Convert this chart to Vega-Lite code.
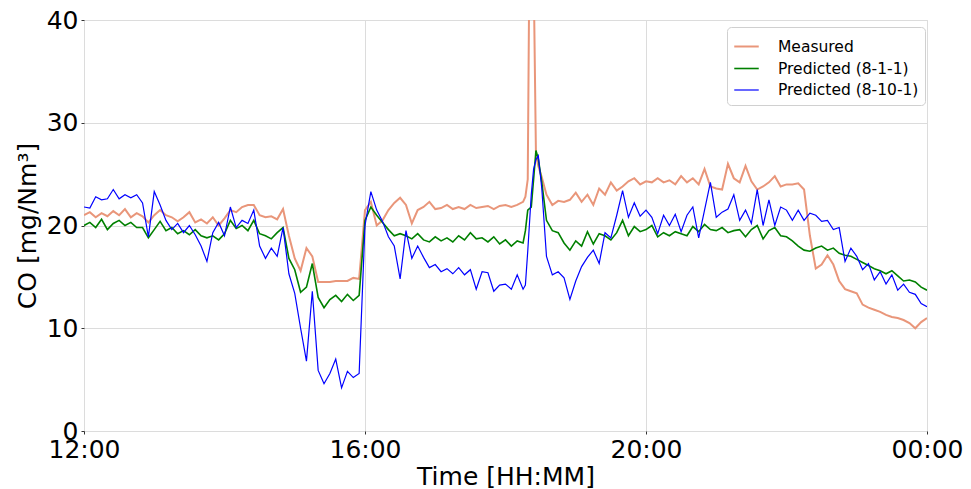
{
  "$schema": "https://vega.github.io/schema/vega-lite/v6.json",
  "width": 843,
  "height": 411,
  "autosize": {"type": "none"},
  "padding": {"left": 84, "top": 20, "right": 44, "bottom": 58},
  "background": "white",
  "config": {
    "font": "DejaVu Sans",
    "view": {"stroke": "#d6d6d6", "strokeWidth": 1},
    "axis": {
      "grid": true,
      "gridColor": "#dcdcdc",
      "gridWidth": 1,
      "domain": false,
      "tickColor": "#333333",
      "tickSize": 3,
      "labelFontSize": 25,
      "labelColor": "#000000",
      "titleFontSize": 25,
      "titleFontWeight": "normal",
      "titleColor": "#000000"
    }
  },
  "data": {
    "values": [
      {"t": 0, "m": 21.0, "g": 20.0, "b": 21.8},
      {"t": 5, "m": 21.3, "g": 20.3, "b": 21.7},
      {"t": 10, "m": 20.8, "g": 19.8, "b": 22.8},
      {"t": 15, "m": 21.2, "g": 20.6, "b": 22.5},
      {"t": 20, "m": 20.9, "g": 19.6, "b": 22.6},
      {"t": 25, "m": 21.4, "g": 20.2, "b": 23.5},
      {"t": 30, "m": 21.0, "g": 20.5, "b": 22.6},
      {"t": 35, "m": 21.6, "g": 20.0, "b": 23.0},
      {"t": 40, "m": 20.8, "g": 20.3, "b": 22.7},
      {"t": 45, "m": 21.2, "g": 19.8, "b": 23.0},
      {"t": 50, "m": 20.9, "g": 19.8, "b": 22.2},
      {"t": 55, "m": 20.3, "g": 18.8, "b": 18.9},
      {"t": 60, "m": 21.0, "g": 19.6, "b": 23.3},
      {"t": 65, "m": 21.5, "g": 20.4, "b": 22.0},
      {"t": 70, "m": 21.0, "g": 19.5, "b": 20.5},
      {"t": 75, "m": 20.8, "g": 19.8, "b": 19.6},
      {"t": 80, "m": 20.4, "g": 19.2, "b": 20.2},
      {"t": 85, "m": 20.8, "g": 19.5, "b": 19.3},
      {"t": 90, "m": 21.3, "g": 19.1, "b": 20.0},
      {"t": 95, "m": 20.3, "g": 19.6, "b": 19.1},
      {"t": 100, "m": 20.6, "g": 19.0, "b": 18.0},
      {"t": 105, "m": 20.2, "g": 18.8, "b": 16.5},
      {"t": 110, "m": 20.8, "g": 19.0, "b": 19.3},
      {"t": 115, "m": 20.0, "g": 18.6, "b": 20.3},
      {"t": 120, "m": 20.7, "g": 19.2, "b": 19.0},
      {"t": 125, "m": 21.5, "g": 20.5, "b": 21.8},
      {"t": 130, "m": 21.3, "g": 19.7, "b": 19.8},
      {"t": 135, "m": 21.8, "g": 20.0, "b": 20.5},
      {"t": 140, "m": 22.0, "g": 19.5, "b": 20.2},
      {"t": 145, "m": 22.0, "g": 20.5, "b": 21.5},
      {"t": 150, "m": 21.0, "g": 19.2, "b": 18.0},
      {"t": 155, "m": 20.8, "g": 19.0, "b": 16.8},
      {"t": 160, "m": 20.9, "g": 18.7, "b": 17.8},
      {"t": 165, "m": 20.6, "g": 19.3, "b": 17.0},
      {"t": 170, "m": 21.6, "g": 19.8, "b": 19.8},
      {"t": 175, "m": 19.0, "g": 16.8, "b": 15.3},
      {"t": 180, "m": 16.8, "g": 15.7, "b": 13.4},
      {"t": 185, "m": 15.6, "g": 13.5, "b": 10.0},
      {"t": 190, "m": 17.8, "g": 14.0, "b": 6.8},
      {"t": 195, "m": 17.0, "g": 16.3, "b": 13.6},
      {"t": 200, "m": 14.5, "g": 13.0, "b": 5.9},
      {"t": 205, "m": 14.5, "g": 12.0, "b": 4.6},
      {"t": 210, "m": 14.5, "g": 12.8, "b": 5.6},
      {"t": 215, "m": 14.6, "g": 13.2, "b": 7.0},
      {"t": 220, "m": 14.6, "g": 12.6, "b": 4.2},
      {"t": 225, "m": 14.6, "g": 13.3, "b": 5.8},
      {"t": 230, "m": 14.9, "g": 12.7, "b": 5.2},
      {"t": 235, "m": 14.8, "g": 13.2, "b": 5.6},
      {"t": 240, "m": 21.5, "g": 20.5, "b": 20.0},
      {"t": 245, "m": 22.3, "g": 21.8, "b": 23.3},
      {"t": 250, "m": 20.0, "g": 21.0, "b": 21.5},
      {"t": 255, "m": 20.5, "g": 20.3, "b": 20.4},
      {"t": 260, "m": 21.5, "g": 19.6, "b": 18.9},
      {"t": 265, "m": 22.2, "g": 19.0, "b": 18.0},
      {"t": 270, "m": 22.7, "g": 19.2, "b": 14.8},
      {"t": 275, "m": 22.0, "g": 19.0, "b": 19.5},
      {"t": 280, "m": 20.2, "g": 18.7, "b": 16.8},
      {"t": 285, "m": 21.5, "g": 19.2, "b": 18.0},
      {"t": 290, "m": 21.8, "g": 18.6, "b": 16.9},
      {"t": 295, "m": 22.3, "g": 18.4, "b": 15.9},
      {"t": 300, "m": 21.6, "g": 18.9, "b": 16.2},
      {"t": 305, "m": 21.7, "g": 18.5, "b": 15.5},
      {"t": 310, "m": 22.0, "g": 18.8, "b": 15.8},
      {"t": 315, "m": 21.6, "g": 18.4, "b": 15.3},
      {"t": 320, "m": 21.8, "g": 19.0, "b": 15.9},
      {"t": 325, "m": 21.6, "g": 18.6, "b": 15.2},
      {"t": 330, "m": 22.0, "g": 19.3, "b": 15.7},
      {"t": 335, "m": 21.7, "g": 18.7, "b": 13.8},
      {"t": 340, "m": 21.8, "g": 18.8, "b": 15.5},
      {"t": 345, "m": 21.9, "g": 18.4, "b": 15.4},
      {"t": 350, "m": 21.6, "g": 18.9, "b": 13.6},
      {"t": 355, "m": 21.9, "g": 18.2, "b": 14.2},
      {"t": 360, "m": 22.0, "g": 18.6, "b": 14.3},
      {"t": 365, "m": 21.8, "g": 18.0, "b": 13.8},
      {"t": 370, "m": 22.0, "g": 18.5, "b": 15.2},
      {"t": 375, "m": 22.3, "g": 18.3, "b": 13.8},
      {"t": 377, "m": 22.8, "g": 19.5, "b": 14.2},
      {"t": 379, "m": 24.5, "g": 21.5, "b": 17.5},
      {"t": 382, "m": 70.0, "g": 21.8, "b": 23.0},
      {"t": 384, "m": 45.0, "g": 24.5, "b": 25.5},
      {"t": 386, "m": 27.0, "g": 27.3, "b": 26.4},
      {"t": 388, "m": 25.8, "g": 26.5, "b": 26.8},
      {"t": 391, "m": 24.7, "g": 24.2, "b": 23.6},
      {"t": 395, "m": 23.0, "g": 20.5, "b": 17.0},
      {"t": 400, "m": 22.0, "g": 19.5, "b": 15.2},
      {"t": 405, "m": 22.4, "g": 19.3, "b": 15.5},
      {"t": 410, "m": 22.3, "g": 18.3, "b": 14.9},
      {"t": 415, "m": 22.5, "g": 17.6, "b": 12.8},
      {"t": 420, "m": 23.2, "g": 18.5, "b": 14.6},
      {"t": 425, "m": 22.3, "g": 18.0, "b": 16.0},
      {"t": 430, "m": 23.0, "g": 19.4, "b": 16.9},
      {"t": 435, "m": 22.0, "g": 18.2, "b": 17.6},
      {"t": 440, "m": 23.6, "g": 19.2, "b": 16.3},
      {"t": 445, "m": 23.0, "g": 19.0, "b": 19.3},
      {"t": 450, "m": 24.2, "g": 18.6, "b": 18.8},
      {"t": 455, "m": 23.4, "g": 19.3, "b": 21.0},
      {"t": 460, "m": 23.8, "g": 20.5, "b": 23.4},
      {"t": 465, "m": 24.3, "g": 19.0, "b": 20.8},
      {"t": 470, "m": 24.6, "g": 19.9, "b": 22.2},
      {"t": 475, "m": 24.0, "g": 19.4, "b": 20.9},
      {"t": 480, "m": 24.3, "g": 19.6, "b": 21.5},
      {"t": 485, "m": 24.2, "g": 20.0, "b": 20.8},
      {"t": 490, "m": 24.6, "g": 18.9, "b": 19.2},
      {"t": 495, "m": 24.2, "g": 19.3, "b": 21.0},
      {"t": 500, "m": 24.4, "g": 19.0, "b": 20.0},
      {"t": 505, "m": 24.0, "g": 19.4, "b": 21.1},
      {"t": 510, "m": 24.8, "g": 19.2, "b": 19.4},
      {"t": 515, "m": 24.2, "g": 19.0, "b": 21.0},
      {"t": 520, "m": 24.6, "g": 19.9, "b": 21.8},
      {"t": 525, "m": 24.0, "g": 19.4, "b": 18.8},
      {"t": 530, "m": 25.5, "g": 20.1, "b": 21.5},
      {"t": 535, "m": 23.8, "g": 19.6, "b": 24.2},
      {"t": 540, "m": 23.6, "g": 19.5, "b": 20.8},
      {"t": 545, "m": 23.5, "g": 19.8, "b": 21.3},
      {"t": 550, "m": 26.0, "g": 19.3, "b": 21.6},
      {"t": 555, "m": 24.6, "g": 19.5, "b": 23.0},
      {"t": 560, "m": 24.2, "g": 19.6, "b": 20.5},
      {"t": 565, "m": 25.8, "g": 18.9, "b": 21.5},
      {"t": 570, "m": 24.3, "g": 19.6, "b": 20.2},
      {"t": 575, "m": 23.5, "g": 20.0, "b": 23.5},
      {"t": 580, "m": 23.8, "g": 18.7, "b": 20.0},
      {"t": 585, "m": 24.2, "g": 19.5, "b": 22.5},
      {"t": 590, "m": 24.8, "g": 19.8, "b": 20.0},
      {"t": 595, "m": 23.8, "g": 19.0, "b": 21.8},
      {"t": 600, "m": 24.0, "g": 18.9, "b": 21.5},
      {"t": 605, "m": 24.0, "g": 18.5, "b": 20.5},
      {"t": 610, "m": 24.1, "g": 18.0, "b": 21.5},
      {"t": 615, "m": 23.5, "g": 17.6, "b": 20.5},
      {"t": 620, "m": 19.0, "g": 17.5, "b": 21.2},
      {"t": 625, "m": 15.8, "g": 17.8, "b": 21.0},
      {"t": 630, "m": 16.2, "g": 18.0, "b": 20.4},
      {"t": 635, "m": 17.1, "g": 17.6, "b": 20.5},
      {"t": 640, "m": 16.2, "g": 17.8, "b": 19.6},
      {"t": 645, "m": 14.6, "g": 17.3, "b": 19.8},
      {"t": 650, "m": 13.8, "g": 17.1, "b": 16.5},
      {"t": 655, "m": 13.6, "g": 17.0, "b": 17.8},
      {"t": 660, "m": 13.4, "g": 16.7, "b": 17.0},
      {"t": 665, "m": 12.3, "g": 16.4, "b": 15.7},
      {"t": 670, "m": 12.0, "g": 16.1, "b": 16.3},
      {"t": 675, "m": 11.8, "g": 15.8, "b": 14.7},
      {"t": 680, "m": 11.6, "g": 15.6, "b": 15.5},
      {"t": 685, "m": 11.3, "g": 15.3, "b": 14.3},
      {"t": 690, "m": 11.1, "g": 15.6, "b": 15.2},
      {"t": 695, "m": 11.0, "g": 15.1, "b": 13.7},
      {"t": 700, "m": 10.8, "g": 14.6, "b": 14.3},
      {"t": 705, "m": 10.5, "g": 14.7, "b": 13.5},
      {"t": 710, "m": 10.0, "g": 14.5, "b": 13.3},
      {"t": 715, "m": 10.6, "g": 14.0, "b": 12.4},
      {"t": 720, "m": 11.0, "g": 13.7, "b": 12.1}
    ]
  },
  "transform": [
    {"fold": ["m", "g", "b"], "as": ["series", "value"]}
  ],
  "mark": {"type": "line", "clip": true},
  "encoding": {
    "x": {
      "field": "t",
      "type": "quantitative",
      "scale": {"domain": [0, 720], "nice": false, "zero": false},
      "axis": {
        "title": "Time [HH:MM]",
        "values": [0, 240, 480, 720],
        "labelExpr": "datum.value == 0 ? '12:00' : datum.value == 240 ? '16:00' : datum.value == 480 ? '20:00' : '00:00'",
        "labelPadding": 3,
        "titlePadding": 2,
        "labelFlush": false
      }
    },
    "y": {
      "field": "value",
      "type": "quantitative",
      "scale": {"domain": [0, 40], "nice": false},
      "axis": {
        "title": "CO [mg/Nm³]",
        "values": [0, 10, 20, 30, 40],
        "labelPadding": 3,
        "titlePadding": 6
      }
    },
    "color": {
      "field": "series",
      "type": "nominal",
      "scale": {"domain": ["m", "g", "b"], "range": ["#e9967a", "#008000", "#0000ff"]},
      "legend": {
        "title": null,
        "orient": "none",
        "legendX": 643,
        "legendY": 7,
        "symbolType": "stroke",
        "symbolSize": 600,
        "labelFontSize": 15.5,
        "labelOffset": 18,
        "labelColor": "#000000",
        "rowPadding": 0,
        "padding": 6,
        "strokeColor": "#d0d0d0",
        "fillColor": "white",
        "cornerRadius": 4,
        "labelExpr": "datum.label == 'm' ? 'Measured' : datum.label == 'g' ? 'Predicted (8-1-1)' : 'Predicted (8-10-1)'"
      }
    },
    "strokeWidth": {
      "field": "series",
      "type": "nominal",
      "scale": {"domain": ["m", "g", "b"], "range": [2, 1.2, 1.2]},
      "legend": null
    }
  }
}
